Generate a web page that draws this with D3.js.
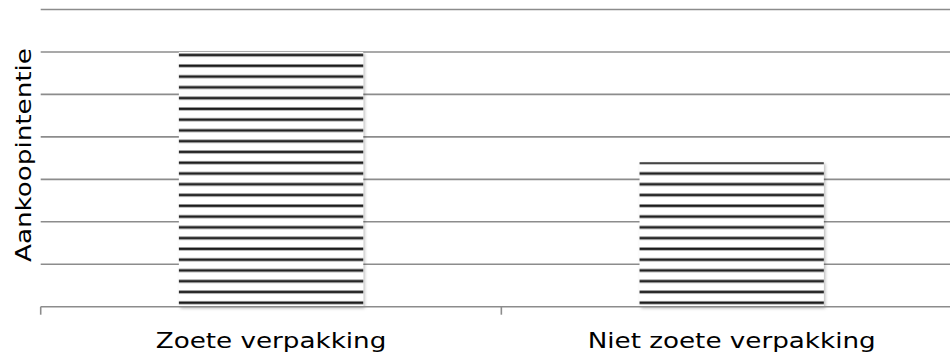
<!DOCTYPE html>
<html>
<head>
<meta charset="utf-8">
<script src="https://cdn.jsdelivr.net/npm/d3@7"></script>
<style>
  html, body { margin: 0; padding: 0; background: #fff; }
  svg { display: block; }
  text { font-family: "DejaVu Sans", Verdana, sans-serif; fill: #000; }
</style>
</head>
<body>
<svg id="chart" width="950" height="358"></svg>
<script>
// Purchase intention per packaging type
const categories = ["Zoete verpakking", "Niet zoete verpakking"];
const values = [6, 3.4];
const yTicks = [0, 1, 2, 3, 4, 5, 6, 7];
const yLabel = "Aankoopintentie";

const width = 950, height = 358;
const plot = { left: 40.7, right: 962, top: 9.5, bottom: 306.7 };

const svg = d3.select("#chart");

const x = d3.scaleBand()
  .domain(categories)
  .range([plot.left, plot.right])
  .paddingInner(0)
  .paddingOuter(0);

const y = d3.scaleLinear()
  .domain([0, 7])
  .range([plot.bottom, plot.top]);

const defs = svg.append("defs");

// Horizontal hatch fill for the bars
const stripeGap = 10.77;
const pat = defs.append("pattern")
  .attr("id", "hatch")
  .attr("patternUnits", "userSpaceOnUse")
  .attr("x", 0).attr("y", 1.15 - 1.8)
  .attr("width", 20).attr("height", stripeGap);
pat.append("rect").attr("width", 20).attr("height", stripeGap).attr("fill", "#fff");
pat.append("rect").attr("y", 0).attr("width", 20).attr("height", 3.6).attr("fill", "#9a9a9a");
pat.append("rect").attr("y", 0.9).attr("width", 20).attr("height", 1.9).attr("fill", "#1c1c1c");

// Soft shadow under the bars
const f = defs.append("filter").attr("id", "shadow")
  .attr("x", "-10%").attr("y", "-10%").attr("width", "120%").attr("height", "120%");
f.append("feDropShadow")
  .attr("dx", 1.5).attr("dy", 1.5).attr("stdDeviation", 1.6)
  .attr("flood-color", "#000").attr("flood-opacity", 0.28);

// Horizontal gridlines
svg.append("g")
  .selectAll("line")
  .data(yTicks.slice(1))
  .join("line")
  .attr("x1", plot.left).attr("x2", width)
  .attr("y1", d => y(d)).attr("y2", d => y(d))
  .attr("stroke", "#8c8c8c").attr("stroke-width", 1.6);

// Bars
const barW = x.bandwidth() * 0.4;
svg.append("g")
  .selectAll("rect")
  .data(values)
  .join("rect")
  .attr("x", (d, i) => x(categories[i]) + (x.bandwidth() - barW) / 2)
  .attr("y", d => y(d))
  .attr("width", barW)
  .attr("height", d => y(0) - y(d))
  .attr("fill", "url(#hatch)")
  .attr("filter", "url(#shadow)");

// Category axis
const xAxis = svg.append("g")
  .attr("transform", `translate(0,${y(0)})`);
xAxis.append("line")
  .attr("x1", plot.left).attr("x2", width)
  .attr("stroke", "#8c8c8c").attr("stroke-width", 1.6);
xAxis.selectAll("line.tick")
  .data(categories.concat([null]))
  .join("line")
  .attr("class", "tick")
  .attr("x1", (d, i) => plot.left + i * x.bandwidth())
  .attr("x2", (d, i) => plot.left + i * x.bandwidth())
  .attr("y1", 0).attr("y2", 8)
  .attr("stroke", "#8c8c8c").attr("stroke-width", 1.6);

const stretch = 1.19;
const labels = xAxis.selectAll("text")
  .data(categories)
  .join("text")
  .attr("x", d => x(d) + x.bandwidth() / 2)
  .attr("y", 41.6)
  .attr("text-anchor", "middle")
  .attr("font-size", 22)
  .text(d => d);
labels.each(function () {
  const len = this.getComputedTextLength();
  d3.select(this).attr("textLength", len * stretch).attr("lengthAdjust", "spacingAndGlyphs");
});

// Value axis title
const yt = svg.append("text")
  .attr("transform", `translate(31,155) rotate(-90)`)
  .attr("text-anchor", "middle")
  .attr("font-size", 22)
  .text(yLabel);
yt.attr("textLength", yt.node().getComputedTextLength() * stretch)
  .attr("lengthAdjust", "spacingAndGlyphs");
</script>
</body>
</html>
